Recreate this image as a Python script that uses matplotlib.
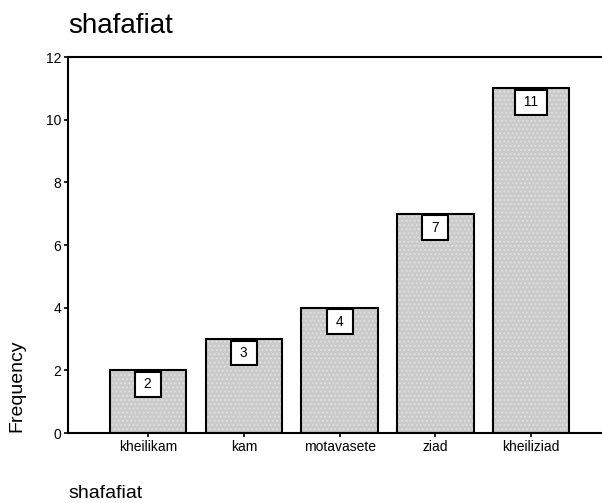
import numpy as np
import matplotlib
matplotlib.use('Agg')
import matplotlib.pyplot as plt

plt.rcParams['font.family'] = ['Liberation Sans', 'DejaVu Sans']
plt.rcParams['hatch.linewidth'] = 0.8

# data
categories = ['kheilikam', 'kam', 'motavasete', 'ziad', 'kheiliziad']
counts = [2, 3, 4, 7, 11]
yticks = [0, 2, 4, 6, 8, 10, 12]

fig = plt.figure(figsize=(6.02, 5.03), dpi=100)
ax = fig.add_axes([0.113, 0.139, 0.887, 0.7475])

x = np.arange(len(categories))
# dotted grey fill (hatch takes the edge colour), then black outlines on top
ax.bar(x, counts, width=0.8, color='#cacaca', edgecolor='#e2e2e2',
       linewidth=0, hatch='....', zorder=2)
ax.bar(x, counts, width=0.8, fill=False, edgecolor='black', linewidth=1.5, zorder=2)

# value boxes hanging from the top of each bar
for xi, c in zip(x, counts):
    ax.annotate(' %d ' % c, xy=(xi, c), xytext=(0, -14), textcoords='offset pixels',
                ha='center', va='center', fontsize=10, color='black', zorder=3,
                bbox=dict(boxstyle='square,pad=0.38', fc='white', ec='black', lw=1.5))

ax.set_xlim(-0.836, 4.74)
ax.set_ylim(0, 12)
ax.set_yticks(yticks)
ax.set_xticks(x)
ax.set_xticklabels(categories)

ax.spines['right'].set_visible(False)
for s in ['left', 'bottom', 'top']:
    ax.spines[s].set_linewidth(1.5)

ax.tick_params(axis='both', direction='out', length=3, width=1.2, labelsize=10, pad=2)

ax.set_ylabel('Frequency', fontsize=14)
ax.yaxis.set_label_coords(-0.08, 0.125)

fig.text(0.113, 470 / 503, 'shafafiat', fontsize=20, ha='left', va='baseline')
fig.text(0.113, 5 / 503, 'shafafiat', fontsize=14, ha='left', va='baseline')

fig.savefig('out.png', dpi=100)
